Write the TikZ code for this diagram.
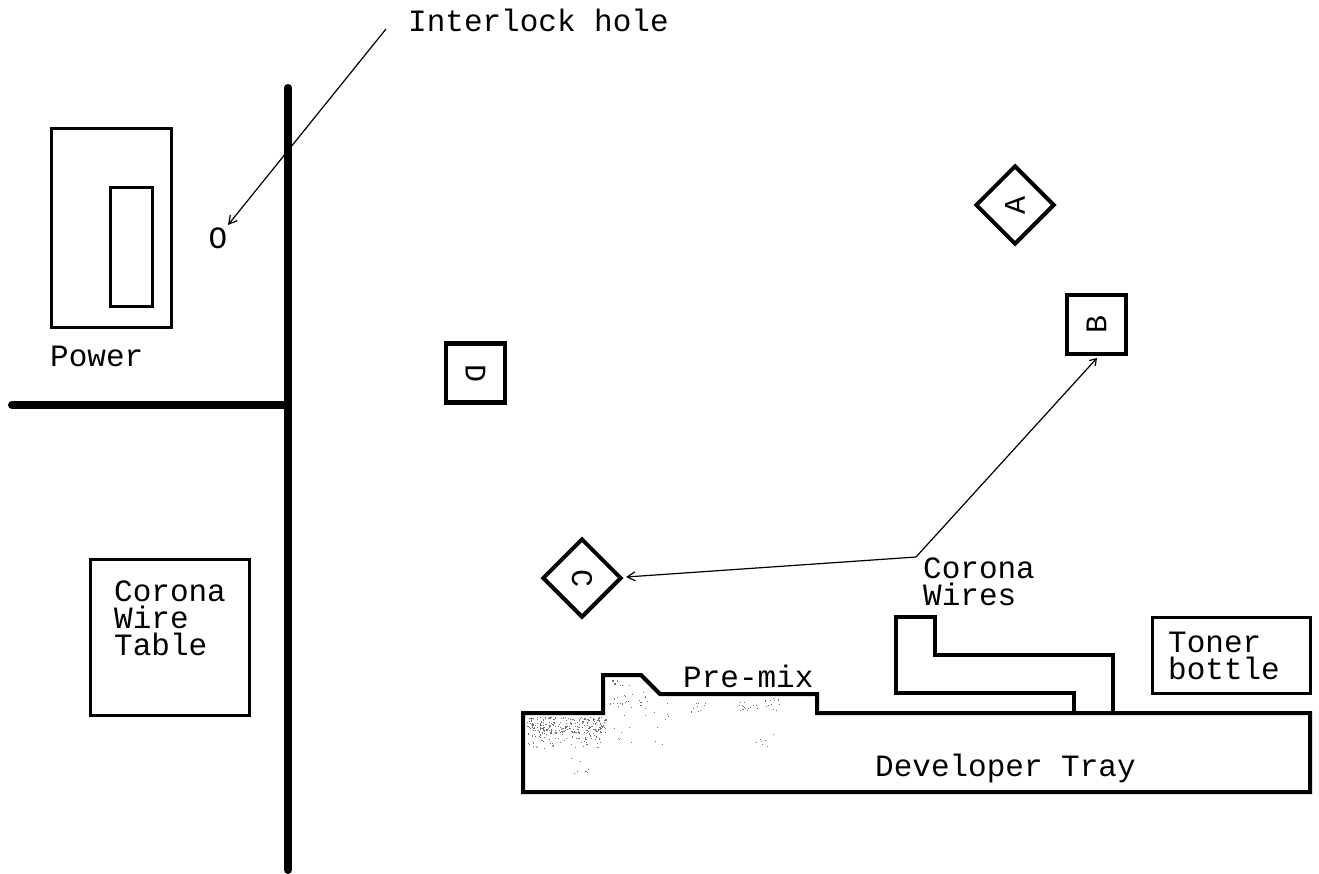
\documentclass[tikz,border=0pt]{standalone}
\usepackage{fontspec}
\setmainfont{Liberation Mono}
\usetikzlibrary{shapes.geometric,arrows.meta}
\tikzset{
  thin box/.style={draw=black,line width=3.4pt,rectangle,inner sep=0pt,anchor=north west},
  marker/.style={draw=black,line width=4.4pt,rectangle,inner sep=0pt,minimum size=59pt,font=\fontsize{30}{30}\selectfont},
  dia/.style={draw=black,line width=4pt,diamond,inner sep=0pt,minimum width=79pt,minimum height=79pt,aspect=1,font=\fontsize{30}{30}\selectfont},
  label text/.style={font=\fontsize{31}{27}\selectfont,align=left,inner sep=0pt,anchor=base west},
  wall/.style={line width=8pt,line cap=round,black},
  outline/.style={line width=4pt,line join=miter,black},
  pointer/.style={line width=1.2pt,black,-{Straight Barb[length=8pt,width=9pt,line width=1.2pt]}},
  speck/.style={fill=black!55}
}
\newcommand{\stipple}[6]{% count, x1, x2, y1, y2, size
  \foreach \n in {1,...,#1}{
    \pgfmathsetmacro{\sx}{#2+rnd*(#3-#2)}
    \pgfmathsetmacro{\sy}{#4+rnd*(#5-#4)}
    \fill[speck] (\sx,\sy) rectangle ++(#6,#6);
  }}
\begin{document}
\begin{tikzpicture}[x=1pt,y=-1pt]
\useasboundingbox[fill=white] (0,0) rectangle (1319,873);
\pgfmathsetseed{4242}
% stipple on the developer tray
\stipple{230}{527}{606}{717}{733}{1.1}
\stipple{60}{527}{600}{733}{748}{1.1}
\stipple{22}{606}{645}{679}{705}{1.2}
\stipple{24}{610}{670}{700}{745}{1}
\stipple{30}{738}{780}{697}{712}{1}
\stipple{10}{690}{708}{700}{712}{1}
\stipple{7}{755}{775}{733}{747}{1}
\stipple{8}{570}{590}{757}{780}{1}
% walls
\draw[wall] (288,88) coordinate (wt) -- (288,870) coordinate (wb);
\draw[wall] (12,405) coordinate (wl) -- (288,405) coordinate (wj);
% power switch
\node[thin box,minimum width=120pt,minimum height=199pt] (power) at (50,127) {};
\node[thin box,minimum width=42pt,minimum height=119pt] (switch) at (109,186) {};
\node[label text] (powerlabel) at (50,366) {Power};
% interlock
\node[label text] (interlock) at (408,31) {Interlock hole};
\node[inner sep=0pt,font=\fontsize{31}{31}\selectfont] (hole) at (218,238) {O};
\coordinate (leaderstart) at (386,29);
\coordinate (holetip) at (228,225);
\draw[pointer] (leaderstart) -- (holetip);
% corona wire table
\node[thin box,minimum width=159pt,minimum height=156pt] (table) at (89,558) {};
\node[label text] (tablelabel) at (114,655) {Corona\\Wire\\Table};
% markers
\node[dia,rotate=90] (A) at (1015,205) {A};
\node[marker,rotate=90] (B) at (1096.5,324.5) {B};
\node[dia,rotate=-90] (C) at (582,578) {C};
\node[marker,rotate=-90] (D) at (475.5,373) {D};
% route
\coordinate (bend) at (916,557);
\coordinate (btip) at (1097,358);
\coordinate (ctip) at (626,577);
\draw[pointer] (bend) -- (ctip);
\draw[pointer,-{Straight Barb[length=6pt,width=8pt,line width=1.2pt]}] (bend) -- (btip);
% developer tray
\draw[outline] (523,713) -- (603,713) -- (603,675) -- (641,675) -- (660,694) -- (817,694) -- (817,713) -- (1310,713) -- (1310,792) -- (523,792) -- cycle;
\node[label text] (pre) at (683,687) {Pre-mix};
\node[label text] (tray) at (875,776) {Developer Tray};
% corona wires
\draw[outline] (1074,713) -- (1074,693) -- (896,693) -- (896,617) -- (935,617) -- (935,655) -- (1113,655) -- (1113,713);
\node[label text] (wires) at (923,605) {Corona\\Wires};
% toner
\node[thin box,minimum width=158pt,minimum height=76pt] (toner) at (1151,616) {};
\node[label text] (tonerlabel) at (1168,679) {Toner\\bottle};
\end{tikzpicture}
\end{document}
